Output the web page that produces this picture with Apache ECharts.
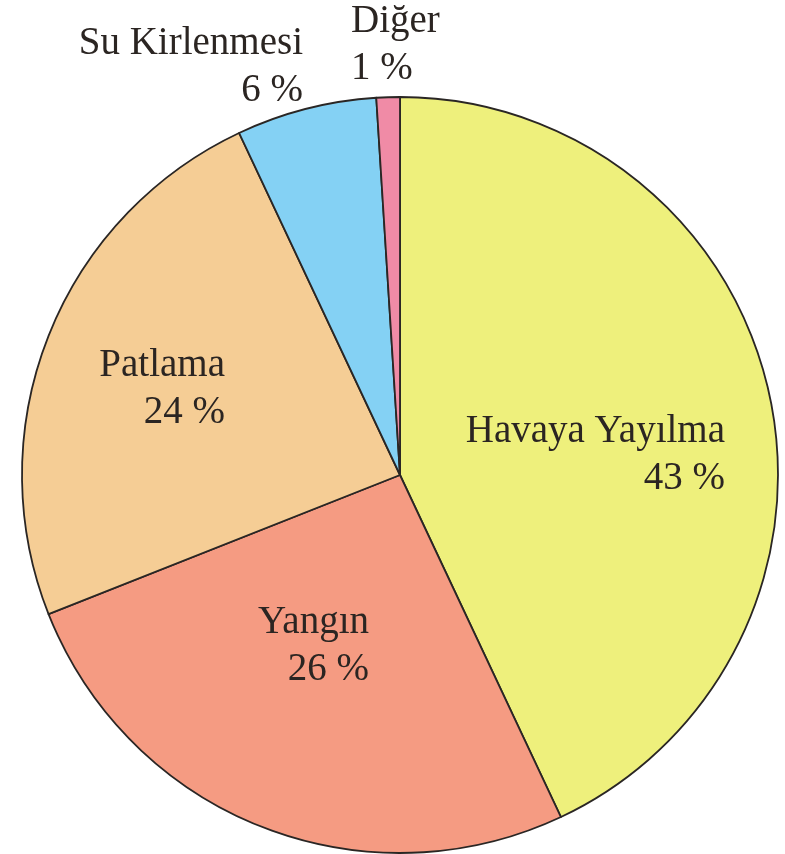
<!DOCTYPE html>
<html>
<head>
<meta charset="utf-8">
<script src="https://cdn.jsdelivr.net/npm/echarts@6/dist/echarts.min.js"></script>
<style>
html,body{margin:0;padding:0;background:#ffffff;}
#chart{width:785px;height:854px;}
</style>
</head>
<body>
<div id="chart"></div>
<script>
// Data
var categories = ['Havaya Yayılma', 'Yangın', 'Patlama', 'Su Kirlenmesi', 'Diğer'];
var values = [43, 26, 24, 6, 1];

// Styles / layout (not data)
var colors = ['#eef07c', '#f59b82', '#f5cd95', '#84d1f4', '#f08ba6'];
var labelAnchor = [
  {x: 725, y: 455, align: 'right'},
  {x: 369, y: 646, align: 'right'},
  {x: 225, y: 389, align: 'right'},
  {x: 303, y: 67, align: 'right'},
  {x: 351, y: 45, align: 'left'}
];

var chart = echarts.init(document.getElementById('chart'), null, {renderer: 'canvas'});
var seriesData = categories.map(function (name, i) {
  return {
    name: name,
    value: values[i],
    itemStyle: {color: colors[i]},
    label: {align: labelAnchor[i].align}
  };
});

chart.setOption({
  backgroundColor: '#ffffff',
  animation: false,
  series: [{
    type: 'pie',
    center: [400, 475],
    radius: [0, 378],
    startAngle: 90,
    clockwise: true,
    silent: true,
    data: seriesData,
    itemStyle: {borderColor: '#2a2624', borderWidth: 1.8},
    label: {
      show: true,
      position: 'inside',
      formatter: function (p) { return p.name + '\n' + p.value + ' %'; },
      fontFamily: '"Liberation Serif", "DejaVu Serif", serif',
      fontSize: 39,
      lineHeight: 47,
      color: '#2b2522'
    },
    labelLine: {show: false},
    labelLayout: function (params) {
      var a = labelAnchor[params.dataIndex];
      return {x: a.x, y: a.y, align: a.align, verticalAlign: 'middle'};
    }
  }]
});
</script>
</body>
</html>
